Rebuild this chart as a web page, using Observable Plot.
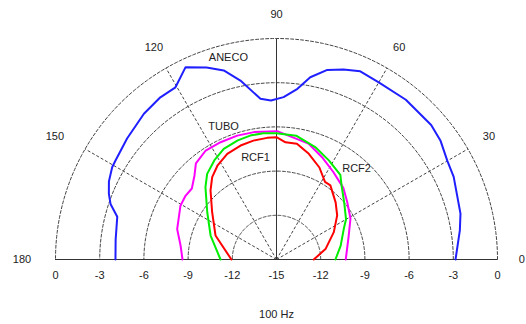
<!DOCTYPE html>
<html>
<head>
<meta charset="utf-8">
<script src="https://cdn.jsdelivr.net/npm/d3@7"></script>
<script src="https://cdn.jsdelivr.net/npm/@observablehq/plot@0.6"></script>
<style>
  html, body { margin: 0; padding: 0; background: #fff; }
  svg { display: block; }
</style>
</head>
<body>
<div id="chart"></div>
<script>
// ---- data (angle in degrees, level in dB) ----
const anecoAngle = [0, 9, 14, 25, 30, 36, 41, 51, 60, 66, 70.6, 75, 79.5, 83, 87.5, 92, 95.7, 101.4, 105.6, 110, 115.3, 120.4, 125.6, 132.3, 141, 148.4, 150.7, 155, 158.6, 161.5, 165, 173, 180];
const anecoDb    = [-2.85, -2.4, -2.13, -1.73, -1.61, -1.25, -1.09, -1.05, -1.12, -1.02, -1.32, -1.68, -2.42, -3.33, -3.97, -4.2, -4.04, -2.61, -1.68, -1.13, -0.56, -1.45, -1.46, -1.63, -1.95, -2.17, -2.21, -2.45, -2.78, -3.12, -3.81, -4.0, -4.07];

const tuboAngle = [0, 18, 29, 39, 47, 57, 66, 74.6, 82.7, 89.7, 100, 107.6, 115.5, 123, 130, 134.3, 140, 145, 150.8, 163, 171.7, 180];
const tuboDb    = [-10.3, -9.85, -9.26, -8.82, -8.35, -7.92, -7.4, -6.83, -6.63, -6.29, -6.22, -6.18, -6.18, -6.18, -6.49, -7.03, -7.5, -7.46, -7.53, -7.95, -8.42, -8.62];

const rcf2Angle = [0, 12, 24.5, 30, 40, 48.5, 53, 62, 71, 81, 90, 96, 102, 108, 115.5, 122, 129, 134.5, 145.7, 160, 180];
const rcf2Db    = [-11.0, -10.55, -9.98, -9.55, -9.0, -8.33, -7.8, -7.4, -6.93, -6.49, -6.43, -6.38, -6.4, -6.5, -6.68, -7.05, -7.52, -8.12, -9.31, -10.24, -11.2];

const rcf1Angle = [0, 12, 25.5, 36, 44, 54, 58, 65, 73, 80, 85.6, 90, 94.4, 101, 107.5, 115, 122, 128, 133.7, 143.7, 158.5, 180];
const rcf1Db    = [-12.47, -11.6, -10.69, -9.91, -9.42, -8.78, -8.79, -8.11, -7.5, -7.02, -7.02, -6.7, -6.72, -6.78, -6.89, -7.09, -7.46, -7.91, -8.52, -9.58, -10.55, -11.94];

const seriesNames  = ["ANECO", "TUBO", "RCF2", "RCF1"];
const seriesColors = ["#1f1fff", "#ff00ff", "#00ee00", "#ff0000"];

// curve label positions (angle, dB)
const labelNames = ["ANECO", "TUBO", "RCF1", "RCF2"];
const labelAngle = [103.4, 111.7, 101.6, 48.6];
const labelDb    = [-0.91, -5.27, -7.92, -6.78];

const ringLevels  = [-12, -9, -6, -3, 0];
const spokeAngles = [30, 60, 120, 150];
const angleTicks  = [0, 30, 60, 90, 120, 150, 180];
const radialTicks = [0, -3, -6, -9, -12, -15, -12, -9, -6, -3, 0];
const rMin = -15, rMax = 0;
const title = "100 Hz";

// ---- helpers ----
const rad = a => a * Math.PI / 180;
const rr = db => db - rMin;
const px = (a, db) => rr(db) * Math.cos(rad(a));
const py = (a, db) => rr(db) * Math.sin(rad(a));

const curves = [];
[[anecoAngle, anecoDb], [tuboAngle, tuboDb], [rcf2Angle, rcf2Db], [rcf1Angle, rcf1Db]].forEach(([A, D], i) => {
  A.forEach((a, j) => curves.push({name: seriesNames[i], a, db: D[j]}));
});

const rings = [];
ringLevels.forEach(l => { for (let a = 0; a <= 180; a += 1) rings.push({l, a}); });

const labels = labelNames.map((n, i) => ({n, a: labelAngle[i], db: labelDb[i]}));

const R = rMax - rMin;
const tickData = radialTicks.map((v, i) => ({v, x: (i < 5 ? -1 : 1) * (v - rMin) * (i === 5 ? 0 : 1)}));

const font = "Liberation Sans, Arial, sans-serif";

const chart = Plot.plot({
  width: 526,
  height: 324,
  marginLeft: 55,
  marginRight: 29,
  marginTop: 38,
  marginBottom: 65,
  style: {background: "#fff", fontFamily: font},
  x: {domain: [-R, R], axis: null},
  y: {domain: [0, R], axis: null},
  color: {domain: seriesNames, range: seriesColors},
  marks: [
    Plot.line(rings, {x: d => px(d.a, d.l), y: d => py(d.a, d.l), z: "l", stroke: "#444", strokeWidth: 1, strokeDasharray: "3,2"}),
    Plot.link(spokeAngles, {x1: 0, y1: 0, x2: a => px(a, rMax), y2: a => py(a, rMax), stroke: "#444", strokeWidth: 1, strokeDasharray: "3,2"}),
    Plot.link([90], {x1: 0, y1: 0, x2: a => px(a, rMax), y2: a => py(a, rMax), stroke: "#333", strokeWidth: 1}),
    Plot.ruleY([0], {x1: -R, x2: R, stroke: "#333", strokeWidth: 1}),
    Plot.line(curves, {x: d => px(d.a, d.db), y: d => py(d.a, d.db), z: "name", stroke: "name", strokeWidth: 2}),
    Plot.text(angleTicks.filter(a => a < 150), {x: a => px(a, rMax + R * 0.11), y: a => py(a, rMax + R * 0.11), text: a => String(a), fontSize: 11, fill: "#222"}),
    Plot.text(angleTicks.filter(a => a >= 150), {x: a => px(a, rMax + R * 0.11), y: a => py(a, rMax + R * 0.11), text: a => String(a), fontSize: 11, fill: "#222", textAnchor: "end"}),
    Plot.text(tickData, {x: "x", y: 0, text: d => String(d.v), dy: 16, fontSize: 11, fill: "#222"}),
    Plot.text(labels, {x: d => px(d.a, d.db), y: d => py(d.a, d.db), text: "n", fontSize: 11, fill: "#222"}),
    Plot.text([title], {x: 0, y: 0, text: d => d, dy: 55, fontSize: 11, fill: "#222"})
  ]
});
document.getElementById("chart").appendChild(chart);
</script>
</body>
</html>
